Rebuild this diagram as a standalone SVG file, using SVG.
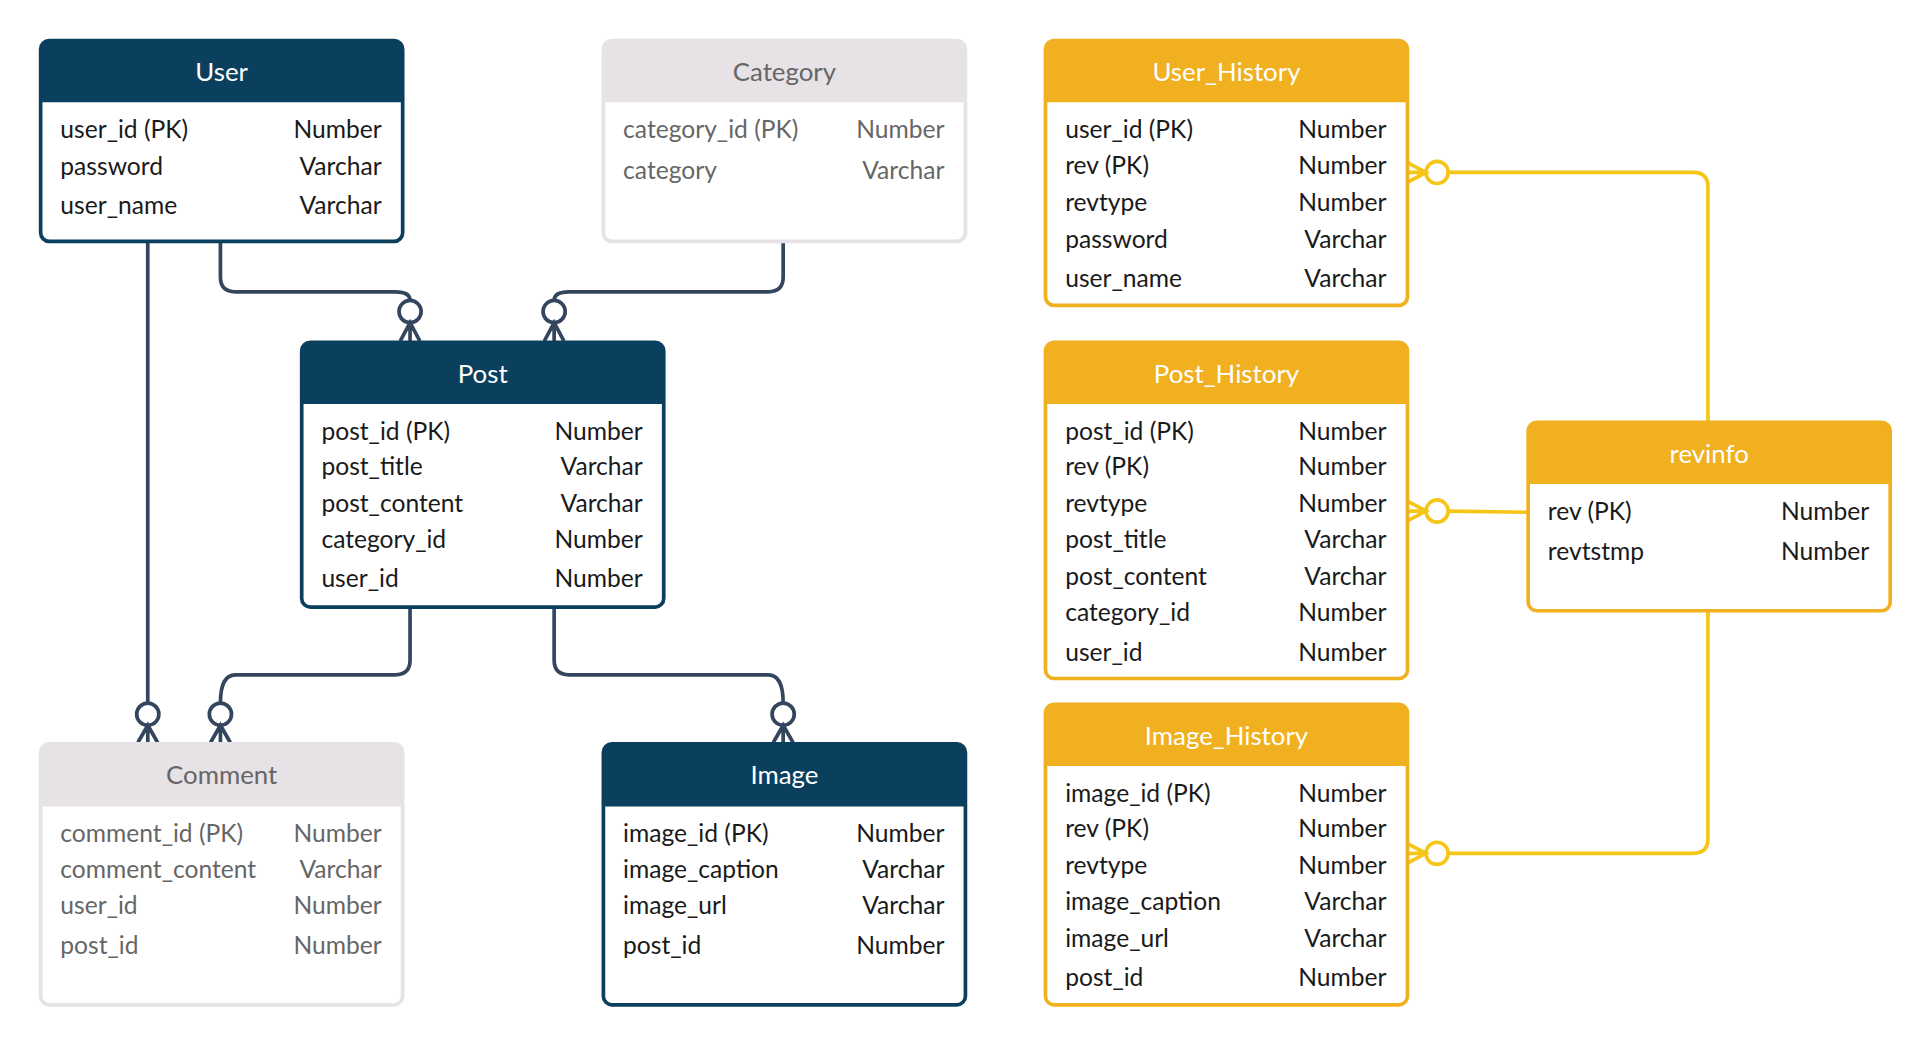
<svg xmlns="http://www.w3.org/2000/svg" width="1921" height="1040" viewBox="0 0 1921 1040">
<style>
text{font-family:Lato,"Open Sans","Liberation Sans",sans-serif;font-size:20px}
.h{font-size:21px;text-anchor:middle}
.r{text-anchor:end}
.nv .box{fill:#fff;stroke:#0b3f5e;stroke-width:3}
.nv .hd{fill:#0b3f5e}
.nv text{fill:#1a1a1a}
.nv .h{fill:#fff}
.gr .box{fill:#fff;stroke:#e6e2e6;stroke-width:3}
.gr .hd{fill:#e6e2e6}
.gr text{fill:#666}
.yl .box{fill:#fff;stroke:#f0b020;stroke-width:3}
.yl .hd{fill:#f0b020}
.yl text{fill:#1a1a1a}
.yl .h{fill:#fff}
.cd{fill:none;stroke:#34465e;stroke-width:3}
.cy{fill:none;stroke:#f5c518;stroke-width:3}
.cd circle,.cy circle{fill:#fff}
</style>
<rect width="1921" height="1040" fill="#fff"/>
<g transform="scale(1.2314)">
<g id="connectors">
<g class="cd">
<path d="M120,196 V571"/><circle cx="120" cy="580" r="9"/><path d="M120,589 V603 M112,603 L120,589 L128,603"/>
<path d="M179,196 V225 Q179,237 191,237 H321 Q333,237 333,244"/><circle cx="333" cy="253" r="9"/><path d="M333,262 V277 M325,277 L333,262 L341,277"/>
<path d="M636,196 V225 Q636,237 624,237 H462 Q450,237 450,244"/><circle cx="450" cy="253" r="9"/><path d="M450,262 V277 M442,277 L450,262 L458,277"/>
<path d="M333,493 V536 Q333,548 321,548 H191 Q179,548 179,571"/><circle cx="179" cy="580" r="9"/><path d="M179,589 V603 M171,603 L179,589 L187,603"/>
<path d="M450,493 V536 Q450,548 462,548 H624 Q636,548 636,571"/><circle cx="636" cy="580" r="9"/><path d="M636,589 V603 M628,603 L636,589 L644,603"/>
</g>
<g class="cy">
<path d="M1387,342 V152 Q1387,140 1375,140 H1176"/><circle cx="1167" cy="140" r="9"/><path d="M1158,140 H1143 M1143,132 L1158,140 L1143,148"/>
<path d="M1240,416 L1176,415"/><circle cx="1167" cy="415" r="9"/><path d="M1158,415 H1143 M1143,407 L1158,415 L1143,423"/>
<path d="M1387,496 V681 Q1387,693 1375,693 H1176"/><circle cx="1167" cy="693" r="9"/><path d="M1158,693 H1143 M1143,685 L1158,693 L1143,701"/>
</g>
</g>
<g id="user" class="nv">
<rect class="box" x="33" y="33" width="294" height="163" rx="7"/><path class="hd" d="M33,83 V40 Q33,33 40,33 H320 Q327,33 327,40 V83 Z"/>
<text class="h" x="180" y="66">User</text>
<text x="49" y="112">user_id (PK)</text><text class="r" x="310" y="112">Number</text>
<text x="49" y="142">password</text><text class="r" x="310" y="142">Varchar</text>
<text x="49" y="174">user_name</text><text class="r" x="310" y="174">Varchar</text>
</g>
<g id="category" class="gr">
<rect class="box" x="490" y="33" width="294" height="163" rx="7"/><path class="hd" d="M490,83 V40 Q490,33 497,33 H777 Q784,33 784,40 V83 Z"/>
<text class="h" x="637" y="66">Category</text>
<text x="506" y="112">category_id (PK)</text><text class="r" x="767" y="112">Number</text>
<text x="506" y="145">category</text><text class="r" x="767" y="145">Varchar</text>
</g>
<g id="post" class="nv">
<rect class="box" x="245" y="278" width="294" height="215" rx="7"/><path class="hd" d="M245,328 V285 Q245,278 252,278 H532 Q539,278 539,285 V328 Z"/>
<text class="h" x="392" y="311">Post</text>
<text x="261" y="357">post_id (PK)</text><text class="r" x="522" y="357">Number</text>
<text x="261" y="386">post_title</text><text class="r" x="522" y="386">Varchar</text>
<text x="261" y="416">post_content</text><text class="r" x="522" y="416">Varchar</text>
<text x="261" y="445">category_id</text><text class="r" x="522" y="445">Number</text>
<text x="261" y="477">user_id</text><text class="r" x="522" y="477">Number</text>
</g>
<g id="comment" class="gr">
<rect class="box" x="33" y="604" width="294" height="212" rx="7"/><path class="hd" d="M33,655 V611 Q33,604 40,604 H320 Q327,604 327,611 V655 Z"/>
<text class="h" x="180" y="637">Comment</text>
<text x="49" y="684">comment_id (PK)</text><text class="r" x="310" y="684">Number</text>
<text x="49" y="713">comment_content</text><text class="r" x="310" y="713">Varchar</text>
<text x="49" y="742">user_id</text><text class="r" x="310" y="742">Number</text>
<text x="49" y="775">post_id</text><text class="r" x="310" y="775">Number</text>
</g>
<g id="image" class="nv">
<rect class="box" x="490" y="604" width="294" height="212" rx="7"/><path class="hd" d="M490,655 V611 Q490,604 497,604 H777 Q784,604 784,611 V655 Z"/>
<text class="h" x="637" y="637">Image</text>
<text x="506" y="684">image_id (PK)</text><text class="r" x="767" y="684">Number</text>
<text x="506" y="713">image_caption</text><text class="r" x="767" y="713">Varchar</text>
<text x="506" y="742">image_url</text><text class="r" x="767" y="742">Varchar</text>
<text x="506" y="775">post_id</text><text class="r" x="767" y="775">Number</text>
</g>
<g id="user_history" class="yl">
<rect class="box" x="849" y="33" width="294" height="215" rx="7"/><path class="hd" d="M849,83 V40 Q849,33 856,33 H1136 Q1143,33 1143,40 V83 Z"/>
<text class="h" x="996" y="66">User_History</text>
<text x="865" y="112">user_id (PK)</text><text class="r" x="1126" y="112">Number</text>
<text x="865" y="141">rev (PK)</text><text class="r" x="1126" y="141">Number</text>
<text x="865" y="171">revtype</text><text class="r" x="1126" y="171">Number</text>
<text x="865" y="201">password</text><text class="r" x="1126" y="201">Varchar</text>
<text x="865" y="233">user_name</text><text class="r" x="1126" y="233">Varchar</text>
</g>
<g id="post_history" class="yl">
<rect class="box" x="849" y="278" width="294" height="273" rx="7"/><path class="hd" d="M849,328 V285 Q849,278 856,278 H1136 Q1143,278 1143,285 V328 Z"/>
<text class="h" x="996" y="311">Post_History</text>
<text x="865" y="357">post_id (PK)</text><text class="r" x="1126" y="357">Number</text>
<text x="865" y="386">rev (PK)</text><text class="r" x="1126" y="386">Number</text>
<text x="865" y="416">revtype</text><text class="r" x="1126" y="416">Number</text>
<text x="865" y="445">post_title</text><text class="r" x="1126" y="445">Varchar</text>
<text x="865" y="475">post_content</text><text class="r" x="1126" y="475">Varchar</text>
<text x="865" y="504">category_id</text><text class="r" x="1126" y="504">Number</text>
<text x="865" y="537">user_id</text><text class="r" x="1126" y="537">Number</text>
</g>
<g id="image_history" class="yl">
<rect class="box" x="849" y="572" width="294" height="244" rx="7"/><path class="hd" d="M849,622 V579 Q849,572 856,572 H1136 Q1143,572 1143,579 V622 Z"/>
<text class="h" x="996" y="605">Image_History</text>
<text x="865" y="651">image_id (PK)</text><text class="r" x="1126" y="651">Number</text>
<text x="865" y="680">rev (PK)</text><text class="r" x="1126" y="680">Number</text>
<text x="865" y="710">revtype</text><text class="r" x="1126" y="710">Number</text>
<text x="865" y="739">image_caption</text><text class="r" x="1126" y="739">Varchar</text>
<text x="865" y="769">image_url</text><text class="r" x="1126" y="769">Varchar</text>
<text x="865" y="801">post_id</text><text class="r" x="1126" y="801">Number</text>
</g>
<g id="revinfo" class="yl">
<rect class="box" x="1241" y="343" width="294" height="153" rx="7"/><path class="hd" d="M1241,393 V350 Q1241,343 1248,343 H1528 Q1535,343 1535,350 V393 Z"/>
<text class="h" x="1388" y="376">revinfo</text>
<text x="1257" y="422">rev (PK)</text><text class="r" x="1518" y="422">Number</text>
<text x="1257" y="455">revtstmp</text><text class="r" x="1518" y="455">Number</text>
</g>
</g>
</svg>
